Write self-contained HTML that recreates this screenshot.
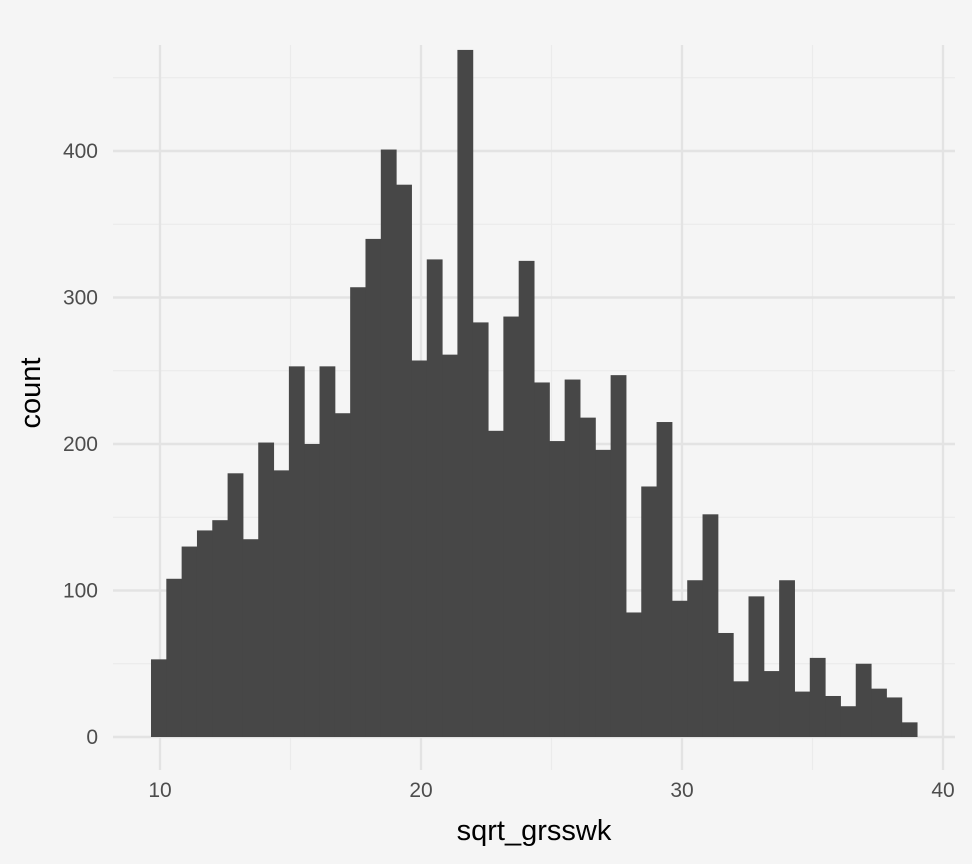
<!DOCTYPE html>
<html><head><meta charset="utf-8"><style>
html,body{margin:0;padding:0;background:#f5f5f5;}
svg{display:block;font-family:"Liberation Sans",sans-serif;}
</style></head><body>
<svg id="chart" width="972" height="864">
<rect width="972" height="864" fill="#f5f5f5"/>
<g id="grid"></g><g id="bars"></g><g id="axes"></g>
<text x="534" y="840" text-anchor="middle" font-size="29" fill="#000">sqrt_grsswk</text>
<text transform="translate(40,393) rotate(-90)" text-anchor="middle" font-size="29" fill="#000">count</text>
</svg>
<script>
const counts=[53,108,130,141,148,180,135,201,182,253,200,253,221,307,340,401,377,257,326,261,469,283,209,287,325,242,202,244,218,196,247,85,171,215,93,107,152,71,38,96,45,107,31,54,28,21,50,33,27,10];
const binStart=9.655;
const binWidth=0.587;
const xTicks=[10,20,30,40];
const yTicks=[0,100,200,300,400];
const xMinor=[15,25,35];
const yMinor=[50,150,250,350,450];
const NS="http://www.w3.org/2000/svg";
const X=v=>160+(v-10)*26.1;
const Y=v=>737-v*1.465;
const L=113,R=955,T=45,B=770;
function el(tag,attrs,parent){const e=document.createElementNS(NS,tag);for(const k in attrs)e.setAttribute(k,attrs[k]);parent.appendChild(e);return e;}
const grid=document.getElementById('grid'),bars=document.getElementById('bars'),axes=document.getElementById('axes');
yMinor.forEach(v=>{const e=el('line',{x1:L,x2:R,y1:Y(v),y2:Y(v),stroke:'#ebebeb','stroke-width':1.2},grid);

});
xMinor.forEach(v=>{const e=el('line',{x1:X(v),x2:X(v),y1:T,y2:B,stroke:'#ebebeb','stroke-width':1.2},grid);

});
yTicks.forEach(v=>{const e=el('line',{x1:L,x2:R,y1:Y(v),y2:Y(v),stroke:'#e3e3e3','stroke-width':2.4},grid);


const t=el('text',{x:98,y:Y(v)+7,'text-anchor':'end','font-size':21,fill:'#4d4d4d'},axes);t.textContent=v;

});
xTicks.forEach(v=>{const e=el('line',{x1:X(v),x2:X(v),y1:T,y2:B,stroke:'#e3e3e3','stroke-width':2.4},grid);


const t=el('text',{x:X(v),y:797,'text-anchor':'middle','font-size':21,fill:'#4d4d4d'},axes);t.textContent=v;

});
counts.forEach((c,i)=>{const x0=X(binStart+i*binWidth),x1=X(binStart+(i+1)*binWidth);
const r=el('rect',{x:x0,y:Y(c),width:x1-x0+0.5,height:Y(0)-Y(c),fill:'#474747'},bars);

});
</script>
</body></html>
